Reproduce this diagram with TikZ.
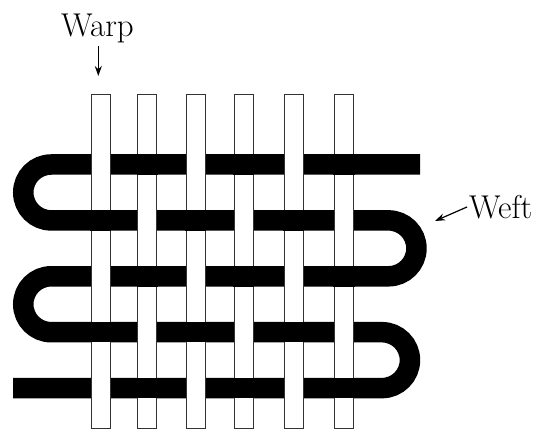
\documentclass[tikz,border=0pt]{standalone}
\usetikzlibrary{arrows.meta}
\begin{document}
\begin{tikzpicture}[x=1pt,y=1pt,
  weftband/.style={line width=20.5pt,black,line cap=butt},
  warpstrip/.style={draw=black!80,fill=white,line width=0.9pt},
  caption/.style={font=\fontsize{33}{40}\selectfont,inner sep=0pt,anchor=base},
  pointer/.style={line width=1.2pt,-{Stealth[length=10pt,width=7pt]}}]
\useasboundingbox (0,0) rectangle (539,431);

% weft: one continuous yarn looping back and forth
\draw[weftband] (420,266.5) -- (51.2,266.5)
  arc[start angle=90,end angle=270,radius=27.95] -- (388.5,210.6)
  arc[start angle=90,end angle=-90,radius=27.95] -- (51.2,154.7)
  arc[start angle=90,end angle=270,radius=27.95] -- (382,98.8)
  arc[start angle=90,end angle=-90,radius=27.95] -- (13,42.9);

% warp strips
\foreach \x in {91,137.7,186,234,284,334.3}
  \draw[warpstrip] (\x,3) rectangle ++(19,333.7);

% weft passing over the warp (plain weave)
\foreach \y in {266.5,154.7,42.9}
  \foreach \x in {137.7,234,334.3}
    \fill (\x-1.2,\y-10.25) rectangle (\x+20.2,\y+10.25);
\foreach \y in {210.6,98.8}
  \foreach \x in {91,186,284}
    \fill (\x-1.2,\y-10.25) rectangle (\x+20.2,\y+10.25);

% labels
\node[caption] (warp) at (97.5,394.3) {Warp};
\coordinate (warptip) at (98.3,355);
\draw[pointer] (98.3,384.5) -- (warptip);

\node[caption] (weft) at (500.8,212.7) {Weft};
\coordinate (wefttip) at (435,210);
\draw[pointer] ([xshift=-2pt]weft.west) -- (wefttip);
\end{tikzpicture}
\end{document}
